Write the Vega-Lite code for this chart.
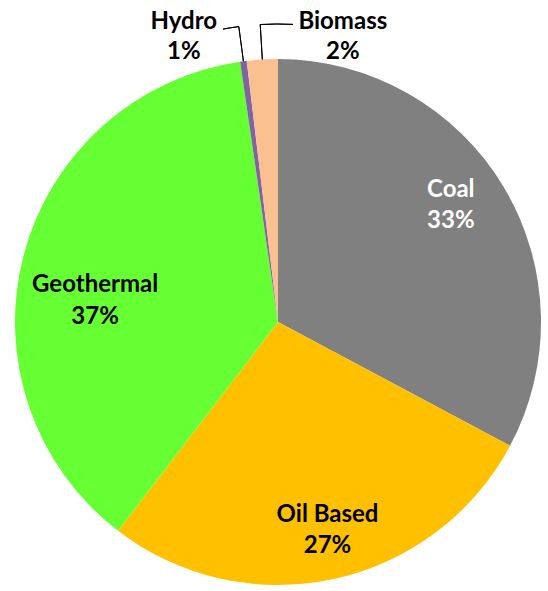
{
  "$schema": "https://vega.github.io/schema/vega-lite/v6.json",
  "width": 540,
  "height": 538,
  "autosize": {"type": "none"},
  "padding": {"left": 8, "top": 53, "right": 0, "bottom": 0},
  "background": "white",
  "config": {"view": {"stroke": null}},
  "data": {
    "values": [
      {"source": "Coal", "value": 32.8, "rank": 1, "label": "Coal\n33%"},
      {"source": "Oil Based", "value": 27.6, "rank": 2, "label": "Oil Based\n27%"},
      {"source": "Geothermal", "value": 37.3, "rank": 3, "label": "Geothermal\n37%"},
      {"source": "Hydro", "value": 0.4, "rank": 4, "label": "Hydro\n1%"},
      {"source": "Biomass", "value": 1.9, "rank": 5, "label": "Biomass\n2%"}
    ]
  },
  "transform": [
    {"stack": "value", "groupby": [], "sort": [{"field": "rank", "order": "ascending"}], "as": ["v0", "v1"]}
  ],
  "layer": [
    {
      "mark": {"type": "arc", "radius": 263},
      "encoding": {
        "theta": {"field": "v0", "type": "quantitative", "scale": {"domain": [0, 100]}},
        "theta2": {"field": "v1"},
        "color": {
          "field": "source",
          "type": "nominal",
          "scale": {
            "domain": ["Coal", "Oil Based", "Geothermal", "Hydro", "Biomass"],
            "range": ["#808080", "#FFC000", "#66FF33", "#8064A2", "#FAC090"]
          },
          "legend": null
        }
      }
    },
    {
      "transform": [{"filter": "datum.source === 'Hydro'"}],
      "mark": {"type": "arc", "radius": 298, "radius2": 263, "thetaOffset": 0.0126, "theta2Offset": 0.0126, "filled": false, "stroke": "#000000", "strokeWidth": 1},
      "encoding": {"theta": {"field": "v0", "type": "quantitative"}, "theta2": {"field": "v0"}}
    },
    {
      "transform": [{"filter": "datum.source === 'Hydro'"}],
      "mark": {"type": "arc", "radius": 298, "radius2": 298, "thetaOffset": -0.041, "theta2Offset": 0.0126, "filled": false, "stroke": "#000000", "strokeWidth": 1},
      "encoding": {"theta": {"field": "v0", "type": "quantitative"}, "theta2": {"field": "v0"}}
    },
    {
      "transform": [{"filter": "datum.source === 'Biomass'"}],
      "mark": {"type": "arc", "radius": 298, "radius2": 263, "thetaOffset": 0.0597, "theta2Offset": 0.0597, "filled": false, "stroke": "#000000", "strokeWidth": 1},
      "encoding": {"theta": {"field": "v0", "type": "quantitative"}, "theta2": {"field": "v0"}}
    },
    {
      "transform": [{"filter": "datum.source === 'Biomass'"}],
      "mark": {"type": "arc", "radius": 298, "radius2": 298, "thetaOffset": 0.0597, "theta2Offset": 0.1697, "filled": false, "stroke": "#000000", "strokeWidth": 1},
      "encoding": {"theta": {"field": "v0", "type": "quantitative"}, "theta2": {"field": "v0"}}
    },
    {
      "mark": {"type": "text", "radius": 205, "dx": -3, "dy": -27, "font": "Lato", "fontSize": 24, "fontWeight": "bold", "lineBreak": "\n", "lineHeight": 31, "fill": "#ffffff", "align": "center", "baseline": "middle"},
      "encoding": {
        "theta": {"field": "value", "type": "quantitative", "stack": true},
        "order": {"field": "rank", "type": "quantitative"},
        "text": {"condition": {"test": "datum.source === 'Coal'", "field": "label"}, "value": ""}
      }
    },
    {
      "mark": {"type": "text", "radius": 210, "dx": 5, "dy": -12, "font": "Lato", "fontSize": 24, "fontWeight": "bold", "lineBreak": "\n", "lineHeight": 31, "fill": "#000000", "align": "center", "baseline": "middle"},
      "encoding": {
        "theta": {"field": "value", "type": "quantitative", "stack": true},
        "order": {"field": "rank", "type": "quantitative"},
        "text": {"condition": {"test": "datum.source === 'Oil Based'", "field": "label"}, "value": ""}
      }
    },
    {
      "mark": {"type": "text", "radius": 190, "dx": 1, "dy": 11, "font": "Lato", "fontSize": 24, "fontWeight": "bold", "lineBreak": "\n", "lineHeight": 32, "fill": "#000000", "align": "center", "baseline": "middle"},
      "encoding": {
        "theta": {"field": "value", "type": "quantitative", "stack": true},
        "order": {"field": "rank", "type": "quantitative"},
        "text": {"condition": {"test": "datum.source === 'Geothermal'", "field": "label"}, "value": ""}
      }
    },
    {
      "mark": {"type": "text", "radius": 290, "dx": -56, "dy": -13, "font": "Lato", "fontSize": 24, "fontWeight": "bold", "lineBreak": "\n", "lineHeight": 30, "fill": "#000000", "align": "center", "baseline": "middle"},
      "encoding": {
        "theta": {"field": "value", "type": "quantitative", "stack": true},
        "order": {"field": "rank", "type": "quantitative"},
        "text": {"condition": {"test": "datum.source === 'Hydro'", "field": "label"}, "value": ""}
      }
    },
    {
      "mark": {"type": "text", "radius": 288, "dx": 82, "dy": -13, "font": "Lato", "fontSize": 24, "fontWeight": "bold", "lineBreak": "\n", "lineHeight": 30, "fill": "#000000", "align": "center", "baseline": "middle"},
      "encoding": {
        "theta": {"field": "value", "type": "quantitative", "stack": true},
        "order": {"field": "rank", "type": "quantitative"},
        "text": {"condition": {"test": "datum.source === 'Biomass'", "field": "label"}, "value": ""}
      }
    }
  ]
}
